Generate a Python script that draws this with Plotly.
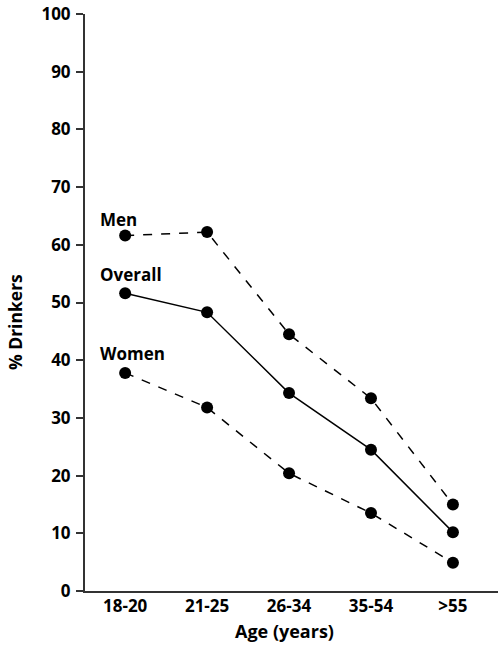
import plotly.graph_objects as go

ages = ["18-20", "21-25", "26-34", "35-54", ">55"]
men = [61.6, 62.2, 44.5, 33.4, 15.0]
overall = [51.6, 48.3, 34.3, 24.5, 10.2]
women = [37.8, 31.8, 20.4, 13.5, 4.9]
series_names = ["Men", "Overall", "Women"]
label_y = [64.4, 54.8, 41.1]

FONT = "Open Sans"
fig = go.Figure()
for name, vals, dash in [("Men", men, "dash"), ("Overall", overall, "solid"), ("Women", women, "dash")]:
    fig.add_trace(go.Scatter(
        x=list(range(len(ages))), y=vals, mode="lines+markers", name=name,
        line=dict(color="black", width=1.5, dash=dash),
        marker=dict(color="black", size=12),
        cliponaxis=False,
    ))

for name, yy in zip(series_names, label_y):
    fig.add_annotation(x=-0.33, y=yy, xref="x", yref="y", text="<b>%s</b>" % name,
                       showarrow=False, xanchor="left", yanchor="middle",
                       font=dict(family=FONT, size=17, color="black"))

fig.add_annotation(x=-0.1695, y=0.466, xref="paper", yref="paper", text="<b>% Drinkers</b>",
                   showarrow=False, textangle=-90, xanchor="center", yanchor="middle",
                   font=dict(family=FONT, size=17.5, color="black"))
fig.add_annotation(x=0.484, y=-0.0693, xref="paper", yref="paper", text="<b>Age (years)</b>",
                   showarrow=False, xanchor="center", yanchor="middle",
                   font=dict(family=FONT, size=18, color="black"))

fig.update_layout(
    width=504, height=648,
    margin=dict(l=85, r=6, t=14, b=57),
    paper_bgcolor="white", plot_bgcolor="white",
    showlegend=False,
    font=dict(family=FONT, size=16, color="black"),
)
fig.update_xaxes(
    range=[-0.49, 4.55], tickmode="array", tickvals=list(range(len(ages))),
    ticktext=["<b>%s</b>" % a for a in ages], showline=True, linecolor="#333",
    linewidth=2, showgrid=False, zeroline=False, ticks="", automargin=False,
    tickfont=dict(family=FONT, size=17), ticklabelstandoff=-1,
)
fig.update_yaxes(
    range=[0, 100], tickvals=list(range(0, 101, 10)),
    ticktext=["<b>%d</b>" % v for v in range(0, 101, 10)],
    showline=True, linecolor="#333", linewidth=2, showgrid=False, zeroline=False,
    ticks="outside", ticklen=7, tickcolor="#333", tickwidth=1.5, automargin=False,
    tickfont=dict(family=FONT, size=17), ticklabelstandoff=2,
    ticklabeloverflow="allow",
)
fig.write_html("out.html", config={"displayModeBar": False},
               post_script="document.body.style.margin='0px';")
